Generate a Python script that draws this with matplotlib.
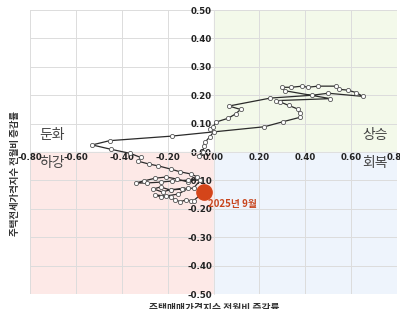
# -*- coding: utf-8 -*-
"""주택 매매 vs 전세 가격지수 전월비 증감률 궤적 (사분면)."""
import numpy as np
import matplotlib; matplotlib.use("Agg")
import matplotlib.pyplot as plt
from matplotlib.patches import Rectangle

plt.rcParams["font.family"] = ["Noto Sans CJK KR", "DejaVu Sans"]
plt.rcParams["axes.unicode_minus"] = False

# 매매(x) / 전세(y) 전월비 증감률(%) — 그림에서 읽은 값, 시간 순
sale = [-0.064, -0.045, -0.042, -0.035, -0.016, 0.001, -0.016, -0.001, 0.009, 0.064,
        0.096, 0.118, 0.067, 0.248, 0.430, 0.500, 0.651, 0.623, 0.585, 0.546,
        0.532, 0.455, 0.411, 0.387, 0.339, 0.299, 0.310, 0.510, 0.273, 0.292,
        0.328, 0.369, 0.376, 0.376, 0.304, 0.222, -0.183, -0.453, -0.529, -0.449,
        -0.362, -0.318, -0.330, -0.283, -0.240, -0.187, -0.144, -0.100, -0.070, -0.109,
        -0.161, -0.205, -0.253, -0.305, -0.340, -0.292, -0.231, -0.179, -0.113, -0.057,
        -0.087, -0.135, -0.187, -0.231, -0.262, -0.222, -0.187, -0.139, -0.109, -0.153,
        -0.209, -0.253, -0.231, -0.187, -0.166, -0.144, -0.122, -0.100, -0.087, -0.040]
jeonse = [-0.013, 0.001, 0.022, 0.036, 0.054, 0.071, 0.080, 0.089, 0.105, 0.119,
          0.134, 0.150, 0.162, 0.190, 0.200, 0.207, 0.196, 0.209, 0.218, 0.221,
          0.232, 0.232, 0.228, 0.232, 0.228, 0.228, 0.216, 0.188, 0.181, 0.176,
          0.164, 0.151, 0.136, 0.122, 0.107, 0.089, 0.056, 0.040, 0.025, 0.010,
          -0.005, -0.019, -0.032, -0.042, -0.049, -0.060, -0.070, -0.077, -0.088, -0.106,
          -0.095, -0.088, -0.092, -0.102, -0.109, -0.109, -0.106, -0.102, -0.099, -0.099,
          -0.127, -0.130, -0.134, -0.123, -0.130, -0.141, -0.132, -0.130, -0.127, -0.148,
          -0.155, -0.151, -0.158, -0.158, -0.169, -0.175, -0.169, -0.171, -0.171, -0.140]
last_label = "2025년 9월"

xticks = [-0.8, -0.6, -0.4, -0.2, 0.0, 0.2, 0.4, 0.6, 0.8]
yticks = [-0.5, -0.4, -0.3, -0.2, -0.1, 0.0, 0.1, 0.2, 0.3, 0.4, 0.5]

INK = "#333333"
fig = plt.figure(figsize=(4.0, 3.09), dpi=100)
ax = fig.add_axes([0.075, 0.0485, 0.9175, 0.919])
ax.set_xlim(-0.8, 0.8); ax.set_ylim(-0.5, 0.5)

# 축은 원점에 (위치 지정이 눈금을 초기화하므로 먼저)
for s in ["top", "right"]:
    ax.spines[s].set_visible(False)
ax.spines["left"].set_position("zero"); ax.spines["bottom"].set_position("zero")
ax.spines["left"].set_color("#e0e0e0"); ax.spines["bottom"].set_color("#e0e0e0")
ax.spines["left"].set_linewidth(0.6); ax.spines["bottom"].set_linewidth(0.6)

# 사분면 배경
ax.add_patch(Rectangle((0, 0), 0.8, 0.5, color="#f3f9ea", zorder=0))
ax.add_patch(Rectangle((-0.8, -0.5), 0.8, 0.5, color="#fde9e7", zorder=0))
ax.add_patch(Rectangle((0, -0.5), 0.8, 0.5, color="#eef4fc", zorder=0))

ax.set_xticks(xticks); ax.set_yticks(yticks)
ax.set_xticklabels([f"{v:.2f}" for v in xticks])
ax.set_yticklabels([f"{v:.2f}" for v in yticks])
ax.tick_params(length=0, pad=1, labelsize=6.2, labelcolor="#222222")
for t in ax.get_xticklabels() + ax.get_yticklabels():
    t.set_fontweight("bold"); t.set_family("DejaVu Sans")
ax.grid(True, color="#dcdcdc", lw=0.7, zorder=1)
ax.set_axisbelow(True)

ax.plot(sale, jeonse, color="#2b2b2b", lw=0.9,
        marker="o", ms=3.0, mfc="white", mec="#555555", mew=0.6, zorder=3)
ax.plot(sale[-1], jeonse[-1], "o", ms=11, color="#d4451a", zorder=4)
ax.annotate(last_label, (sale[-1], jeonse[-1]), xytext=(3, -11), textcoords="offset points",
            fontsize=7, weight="bold", color="#c8461e", zorder=5)

for txt, x, y, ha in [("둔화", -0.76, 0.06, "left"), ("상승", 0.76, 0.06, "right"),
                      ("하강", -0.76, -0.04, "left"), ("회복", 0.76, -0.04, "right")]:
    ax.text(x, y, txt, fontsize=10, color="#444444", ha=ha, va="center", zorder=5)

fig.text(0.038, 0.44, "주택전세가격지수 전월비 증감률", rotation=90, fontsize=6.8,
         weight="bold", color=INK, ha="center", va="center")
fig.text(0.535, 0.018, "주택매매가격지수 전월비 증감률", fontsize=7,
         weight="bold", color=INK, ha="center", va="top")

fig.savefig("out.png", dpi=100, facecolor="white")
